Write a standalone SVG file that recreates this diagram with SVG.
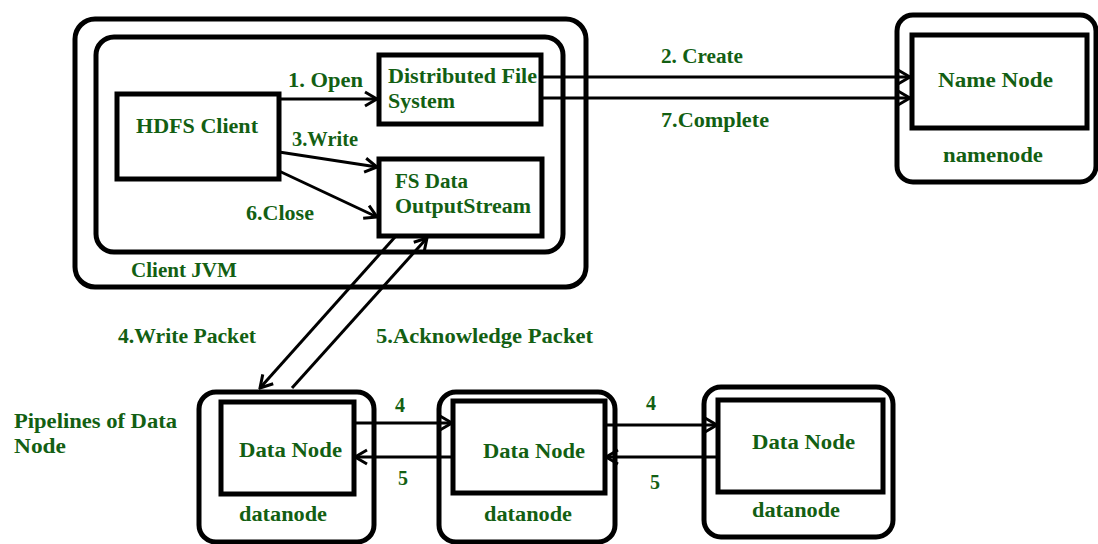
<svg xmlns="http://www.w3.org/2000/svg" width="1098" height="544" viewBox="0 0 1098 544">
  <defs>
    <style>
      .frame { fill: none; stroke: #000; stroke-width: 5; }
      .box { fill: #fff; stroke: #000; stroke-width: 5; }
      .wire { fill: none; stroke: #000; stroke-width: 3; }
      .lbl { font-family: "Liberation Serif", "Times New Roman", serif; font-weight: bold; font-size: 20px; fill: #135f13; }
    </style>
    <marker id="chev" markerUnits="userSpaceOnUse" viewBox="-14 -9 16 18" refX="0" refY="0" markerWidth="16" markerHeight="18" orient="auto">
      <path d="M-12,-7 L0,0 L-12,7" fill="none" stroke="#000" stroke-width="3" stroke-linejoin="miter"/>
    </marker>
  </defs>

  <rect width="1098" height="544" fill="#fff"/>

  <!-- Client JVM container -->
  <g id="client-jvm">
    <rect class="frame" x="75" y="19" width="511" height="268" rx="20"/>
    <rect class="frame" x="96" y="37" width="467" height="215" rx="18"/>
    <text class="lbl" x="131" y="277" textLength="106" lengthAdjust="spacingAndGlyphs">Client JVM</text>
  </g>

  <g id="hdfs-client">
    <rect class="box" x="117" y="94" width="162" height="85"/>
    <text class="lbl" x="136" y="133" textLength="122" lengthAdjust="spacingAndGlyphs">HDFS Client</text>
  </g>

  <g id="distributed-fs">
    <rect class="box" x="379" y="55" width="162" height="69"/>
    <text class="lbl" x="388" y="83" textLength="149" lengthAdjust="spacingAndGlyphs">Distributed File</text>
    <text class="lbl" x="388" y="108" textLength="67" lengthAdjust="spacingAndGlyphs">System</text>
  </g>

  <g id="fs-output-stream">
    <rect class="box" x="379" y="159" width="163" height="77"/>
    <text class="lbl" x="395" y="188" textLength="73" lengthAdjust="spacingAndGlyphs">FS Data</text>
    <text class="lbl" x="395" y="213" textLength="136" lengthAdjust="spacingAndGlyphs">OutputStream</text>
  </g>

  <!-- Name node -->
  <g id="namenode">
    <rect class="frame" x="897" y="15" width="199" height="167" rx="16"/>
    <rect class="box" x="912" y="35" width="175" height="93"/>
    <text class="lbl" x="938" y="87" textLength="115" lengthAdjust="spacingAndGlyphs">Name Node</text>
    <text class="lbl" x="943" y="162" textLength="100" lengthAdjust="spacingAndGlyphs">namenode</text>
  </g>

  <!-- Data node pipeline -->
  <g id="pipeline-label">
    <text class="lbl" x="14" y="428" textLength="163" lengthAdjust="spacingAndGlyphs">Pipelines of Data</text>
    <text class="lbl" x="14" y="453" textLength="52" lengthAdjust="spacingAndGlyphs">Node</text>
  </g>

  <g id="datanode-1">
    <rect class="frame" x="199" y="392" width="175" height="150" rx="17"/>
    <rect class="box" x="221" y="402" width="133" height="92"/>
    <text class="lbl" x="239" y="457" textLength="103" lengthAdjust="spacingAndGlyphs">Data Node</text>
    <text class="lbl" x="239" y="521" textLength="88" lengthAdjust="spacingAndGlyphs">datanode</text>
  </g>

  <g id="datanode-2">
    <rect class="frame" x="439" y="392" width="176" height="150" rx="17"/>
    <rect class="box" x="453" y="401" width="152" height="92"/>
    <text class="lbl" x="483" y="458" textLength="102" lengthAdjust="spacingAndGlyphs">Data Node</text>
    <text class="lbl" x="484" y="521" textLength="88" lengthAdjust="spacingAndGlyphs">datanode</text>
  </g>

  <g id="datanode-3">
    <rect class="frame" x="704" y="387" width="189" height="150" rx="17"/>
    <rect class="box" x="718" y="400" width="165" height="92"/>
    <text class="lbl" x="752" y="449" textLength="103" lengthAdjust="spacingAndGlyphs">Data Node</text>
    <text class="lbl" x="752" y="517" textLength="88" lengthAdjust="spacingAndGlyphs">datanode</text>
  </g>

  <!-- Connectors -->
  <g id="connectors">
    <line class="wire" x1="279" y1="99" x2="377" y2="99" marker-end="url(#chev)"/>
    <line class="wire" x1="541" y1="77" x2="910" y2="77" marker-end="url(#chev)"/>
    <line class="wire" x1="541" y1="98" x2="910" y2="98" marker-end="url(#chev)"/>
    <line class="wire" x1="279" y1="152" x2="377" y2="167" marker-end="url(#chev)"/>
    <line class="wire" x1="279" y1="171" x2="377" y2="217" marker-end="url(#chev)"/>
    <line class="wire" x1="395" y1="237" x2="260" y2="388" marker-end="url(#chev)"/>
    <line class="wire" x1="292" y1="388" x2="427" y2="238" marker-end="url(#chev)"/>
    <line class="wire" x1="354" y1="423" x2="452" y2="423" marker-end="url(#chev)"/>
    <line class="wire" x1="453" y1="457" x2="355" y2="457" marker-end="url(#chev)"/>
    <line class="wire" x1="605" y1="425" x2="717" y2="425" marker-end="url(#chev)"/>
    <line class="wire" x1="718" y1="457" x2="606" y2="457" marker-end="url(#chev)"/>
  </g>

  <!-- Connector labels -->
  <g id="connector-labels">
    <text class="lbl" x="288" y="87" textLength="75" lengthAdjust="spacingAndGlyphs">1. Open</text>
    <text class="lbl" x="661" y="63" textLength="82" lengthAdjust="spacingAndGlyphs">2. Create</text>
    <text class="lbl" x="661" y="127" textLength="108" lengthAdjust="spacingAndGlyphs">7.Complete</text>
    <text class="lbl" x="292" y="146" textLength="66" lengthAdjust="spacingAndGlyphs">3.Write</text>
    <text class="lbl" x="246" y="220" textLength="68" lengthAdjust="spacingAndGlyphs">6.Close</text>
    <text class="lbl" x="118" y="343" textLength="138" lengthAdjust="spacingAndGlyphs">4.Write Packet</text>
    <text class="lbl" x="376" y="343" textLength="217" lengthAdjust="spacingAndGlyphs">5.Acknowledge Packet</text>
    <text class="lbl" x="395" y="412">4</text>
    <text class="lbl" x="398" y="485">5</text>
    <text class="lbl" x="646" y="410">4</text>
    <text class="lbl" x="650" y="489">5</text>
  </g>
</svg>
